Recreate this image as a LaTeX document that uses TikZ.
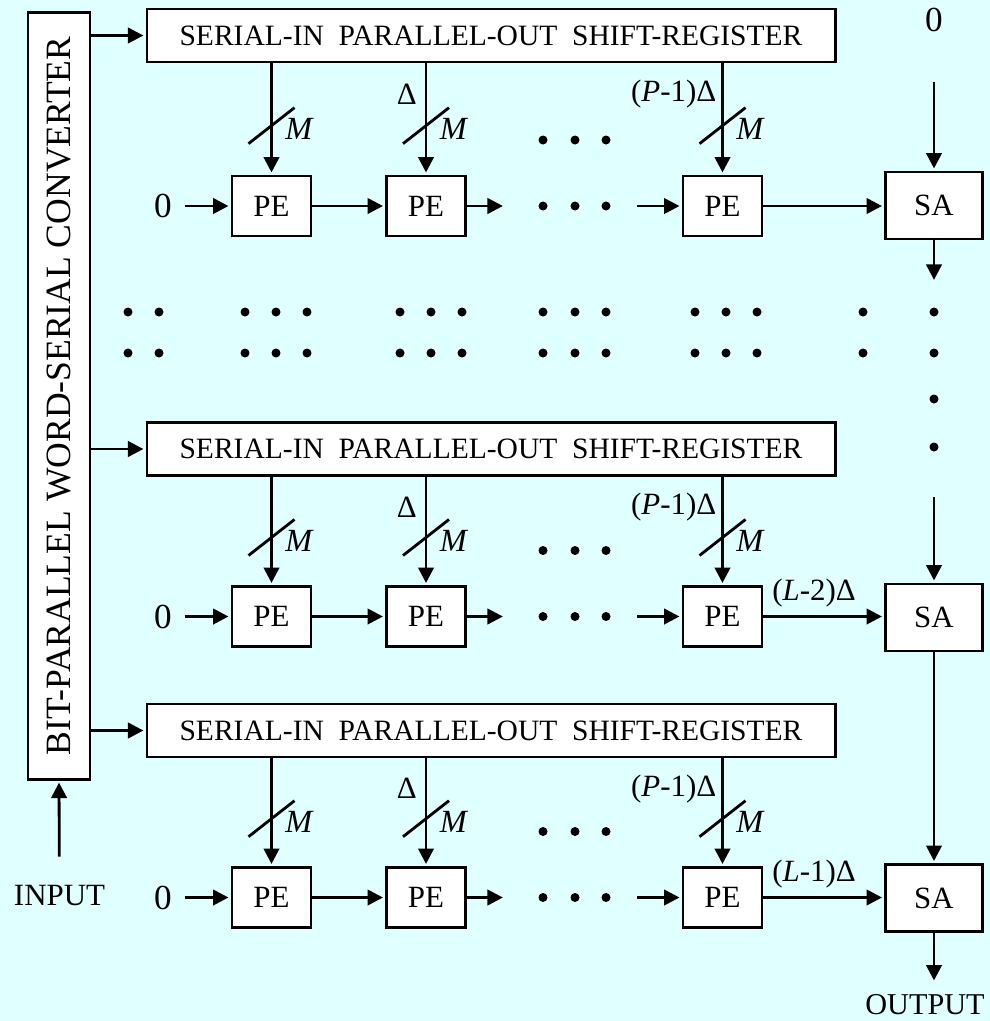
\documentclass[tikz,border=0pt]{standalone}
\usepackage{fontspec}
\setmainfont{Liberation Serif}
\usetikzlibrary{arrows.meta,calc}

\definecolor{panel}{HTML}{E0FFFF}

\begin{document}
\begin{tikzpicture}[
  x=0.025cm, y=-0.025cm,
  every node/.style={font=\fontsize{22}{26}\selectfont, inner sep=0pt},
  blk/.style={draw, fill=white, line width=2pt},
  pe/.style={blk, minimum width=1.975cm, minimum height=1.5cm},
  sa/.style={blk, minimum width=2.425cm, minimum height=1.675cm},
  reg/.style={blk, minimum width=17.2cm, minimum height=1.325cm,
              font=\fontsize{21}{24}\selectfont},
  arr/.style={line width=2pt, -{Triangle[length=11pt, width=11pt]},
              shorten >=1.5pt},
  tap/.style={font=\fontsize{22}{25}\selectfont},
  zero/.style={font=\fontsize{25}{28}\selectfont, inner xsep=9pt},
]

% ── Background ──
\fill[panel] (0,0) rectangle (990,1021);
\useasboundingbox (0,0) rectangle (990,1021);

% ── Converter (rotated: south = right side, west = bottom) ──
\node[blk, rotate=90, minimum width=19.15cm, minimum height=1.55cm,
      font=\fontsize{25.3}{28}\selectfont]
  (conv) at (59,396) {BIT-PARALLEL WORD-SERIAL CONVERTER};
\node (in) at (59.5,896) {INPUT};
\draw[arr, shorten <=0.72cm] (in) -- (conv.west);

% ── Three register / PE rows ──
\foreach \r/\ry/\py in {1/35.5/206, 2/449/616.5, 3/730.5/897.5} {
  \node[reg] (reg\r) at (491,\ry) {SERIAL-IN\ \ PARALLEL-OUT\ \ SHIFT-REGISTER};
  \draw[arr] (conv.south |- reg\r) -- (reg\r.west);

  \node[pe] (pe\r1) at (271.5,\py) {PE};
  \node[pe] (pe\r2) at (426,\py) {PE};
  \node[pe] (pe\r3) at (722.5,\py) {PE};

  \node[zero] (zero\r) at (163,\py) {0};
  \draw[arr] (zero\r) -- (pe\r1);
  \draw[arr] (pe\r1) -- (pe\r2);
  \coordinate (gapa\r) at (505,\py);
  \coordinate (gapb\r) at (637,\py);
  \draw[arr] (pe\r2) -- (gapa\r);
  \draw[arr] (gapb\r) -- (pe\r3);
  \foreach \dx in {543,575,606} {
    \fill (\dx,\py) circle[radius=4.5];
    \fill (\dx,\py-66) circle[radius=4.5];
  }

  % taps with M-bit bus slash
  \foreach \c in {1,2,3} {
    \draw[arr] (pe\r\c.north |- reg\r.south) --
      coordinate[pos=.28] (tl\r\c) coordinate[pos=.56] (sl\r\c) (pe\r\c.north);
    \draw[line width=2pt] ($(sl\r\c)+(-23,18)$) -- ($(sl\r\c)+(23,-18)$);
    \node[font=\fontsize{23}{26}\selectfont] (bus\r\c) at ($(sl\r\c)+(28,3)$) {\textit{M}};
  }
  \node[tap, anchor=east] (dl\r2) at ($(tl\r2)+(-9,0)$) {Δ};
  \node[tap, anchor=east] (dl\r3) at ($(tl\r3)+(-6,0)$) {(\textit{P}-1)Δ};
}

% ── Accumulator column ──
\node[sa] (sa1) at (934,205.5) {SA};
\node[sa] (sa2) at (934,617.5) {SA};
\node[sa] (sa3) at (934,898) {SA};

\node[zero] (zerosa) at (934,20) {0};
\draw[arr, shorten <=1.25cm] (zerosa) -- (sa1);
\draw[arr] (pe13) -- (sa1.west |- pe13);
\draw[arr] (pe23) -- node[tap, above=6pt, pos=.42] (lag2) {(\textit{L}-2)Δ} (sa2.west |- pe23);
\draw[arr] (pe33) -- node[tap, above=6pt, pos=.42] (lag3) {(\textit{L}-1)Δ} (sa3.west |- pe33);

\coordinate (sa1out) at (934,282);
\coordinate (sa2feed) at (934,497);
\draw[arr] (sa1) -- (sa1out);
\draw[arr] (sa2feed) -- (sa2);
\draw[arr] (sa2) -- (sa3);

\node[font=\fontsize{21.5}{25}\selectfont] (out) at (925,1005) {OUTPUT};
\draw[arr, shorten >=10pt] (sa3) -- (sa3.south |- out.north);

% ── Elided rows ──
\foreach \dx in {128,159,245,276,307,400,431,462,543,575,606,695,726,757,863,934}
  \foreach \dy in {312,353}
    \fill (\dx,\dy) circle[radius=4.5];
\foreach \dy in {399,447}
  \fill (934,\dy) circle[radius=4.5];

\end{tikzpicture}
\end{document}
